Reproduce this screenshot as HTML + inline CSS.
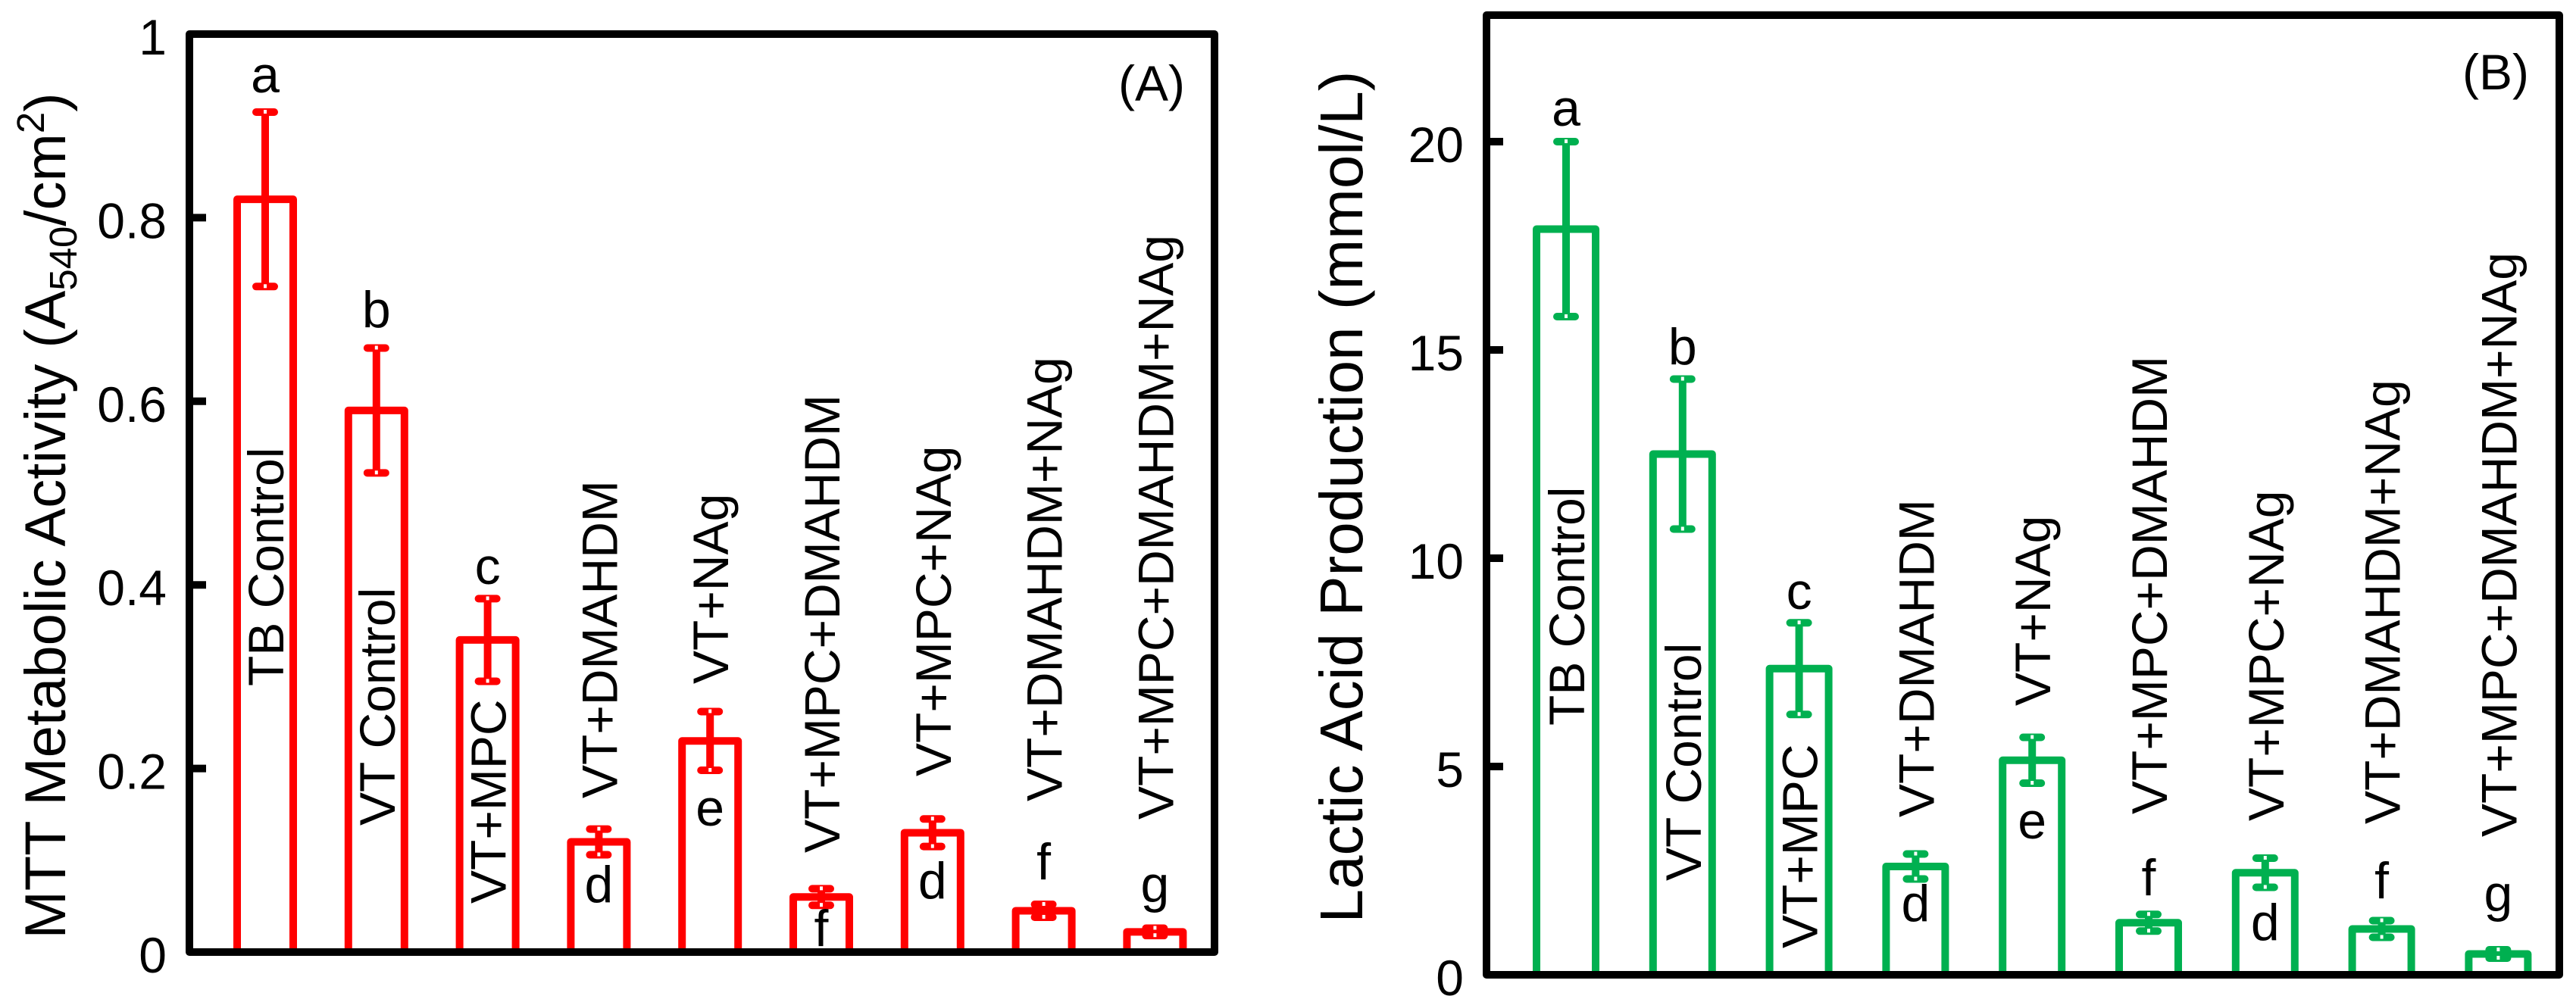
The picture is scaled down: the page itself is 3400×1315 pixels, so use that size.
<!DOCTYPE html>
<html><head><meta charset="utf-8"><style>
html,body{margin:0;padding:0;background:#fff}
svg{display:block}
text{font-family:"Liberation Sans",Arial,sans-serif;fill:#000}
</style></head><body>
<svg id="chart" width="3400" height="1315" viewBox="0 0 3400 1315" xmlns="http://www.w3.org/2000/svg">
<g id="pA"></g>
<g id="pB"></g>
</svg>
<script>
const categories = ["TB Control","VT Control","VT+MPC","VT+DMAHDM","VT+NAg","VT+MPC+DMAHDM","VT+MPC+NAg","VT+DMAHDM+NAg","VT+MPC+DMAHDM+NAg"];
const mttValues = [0.82,0.59,0.34,0.12,0.23,0.06,0.13,0.045,0.022];
const mttErrors = [0.095,0.068,0.045,0.014,0.032,0.009,0.015,0.007,0.004];
const mttLetters = ["a","b","c","d","e","f","d","f","g"];
const mttTicks = [0,0.2,0.4,0.6,0.8,1];
const mttTickLabels = ["0","0.2","0.4","0.6","0.8","1"];
const lacticValues = [17.9,12.5,7.35,2.6,5.15,1.25,2.45,1.1,0.5];
const lacticErrors = [2.1,1.8,1.1,0.3,0.55,0.2,0.35,0.2,0.1];
const lacticLetters = ["a","b","c","d","e","f","d","f","g"];
const lacticTicks = [0,5,10,15,20];
const lacticTickLabels = ["0","5","10","15","20"];

const NS="http://www.w3.org/2000/svg";
function mk(tag,attrs,parent){const e=document.createElementNS(NS,tag);for(const k in attrs)e.setAttribute(k,attrs[k]);parent.appendChild(e);return e;}

const layoutA={letterY:[99,409,748,1168,1067,1226,1163,1138,1168],textBottom:[906,1090,1193,1054,903,1126,1025,1058,1082]};
const layoutB={letterY:[143,458,781,1193,1084,1159,1218,1163,1180],textBottom:[958,1163,1252,1079,932,1075,1084,1088,1105]};

function panel(g,cfg){
  const {left,right,top,bottom,vmax,values,errors,letters,ticks,tickLabels,color,x0,step,bw,layout,title,titleX,titleY,titleSize,tag,tagX,tagY}=cfg;
  const y=v=>bottom-(v/vmax)*(bottom-top);
  const x=i=>x0+i*step;
  values.forEach((v,i)=>{
    const cx=x(i);
    const r=mk('rect',{x:cx-bw/2,y:y(v),width:bw,height:bottom-y(v),fill:'none',stroke:color,'stroke-width':10,'stroke-linejoin':'round'},g);
    
    
    const e=mk('line',{x1:cx,x2:cx,y1:y(v+errors[i]),y2:y(v-errors[i]),stroke:color,'stroke-width':10},g);
    
    
    [v+errors[i],v-errors[i]].forEach(ev=>{
      const c=mk('rect',{x:cx-17,y:y(ev)-5,width:34,height:10,rx:5,fill:color},g);
      
      
      mk('rect',{x:cx-2,y:y(ev)-3,width:4,height:5,fill:'#fff'},g);
    });
    const l=mk('text',{x:cx,y:layout.letterY[i],'font-size':68,'text-anchor':'middle','dominant-baseline':'central'},g);
    l.textContent=letters[i];
    
    
    const t=mk('text',{x:0,y:0,'font-size':66,'text-anchor':'start',transform:`translate(${cx+24},${layout.textBottom[i]}) rotate(-90)`},g);
    t.textContent=categories[i];
    
    
  });
  const f=mk('rect',{x:left,y:top,width:right-left,height:bottom-top,fill:'none',stroke:'#000','stroke-width':10,'stroke-linejoin':'round'},g);
  
  
  ticks.forEach((tv,i)=>{
    const ty=y(tv);
    if(tv>0&&ty>top+5){const tk=mk('line',{x1:left,x2:left+22,y1:ty,y2:ty,stroke:'#000','stroke-width':10},g);
      
      }
    const lb=mk('text',{x:left-30,y:ty+4,'font-size':66,'text-anchor':'end','dominant-baseline':'central'},g);
    lb.textContent=tickLabels[i];
    
    
  });
  const tg=mk('text',{x:tagX,y:tagY,'font-size':66,'text-anchor':'middle','dominant-baseline':'central'},g);
  tg.textContent=tag;
  
  
  const tt=mk('text',{x:0,y:0,'font-size':titleSize,'text-anchor':'middle',transform:`translate(${titleX},${titleY}) rotate(-90)`},g);
  
  
  title(tt);
}

panel(document.getElementById('pA'),{left:250,right:1603,top:45,bottom:1257,vmax:1,values:mttValues,errors:mttErrors,letters:mttLetters,ticks:mttTicks,tickLabels:mttTickLabels,color:'#ff0000',x0:350,step:146.8,bw:74,layout:layoutA,titleX:86,titleY:681,titleSize:76,tag:'(A)',tagX:1520,tagY:110,
  title:tt=>{tt.innerHTML='MTT Metabolic Activity (A<tspan font-size="51" dy="15">540</tspan><tspan dy="-15">/cm</tspan><tspan font-size="51" dy="-28">2</tspan><tspan dy="28">)</tspan>';}});
panel(document.getElementById('pB'),{left:1962,right:3378,top:20,bottom:1287,vmax:1267/55,values:lacticValues,errors:lacticErrors,letters:lacticLetters,ticks:lacticTicks,tickLabels:lacticTickLabels,color:'#00b050',x0:2067,step:153.8,bw:78,layout:layoutB,titleX:1798,titleY:656,titleSize:80,tag:'(B)',tagX:3294,tagY:95,
  title:tt=>{tt.textContent='Lactic Acid Production (mmol/L)';}});
</script>
</body></html>
